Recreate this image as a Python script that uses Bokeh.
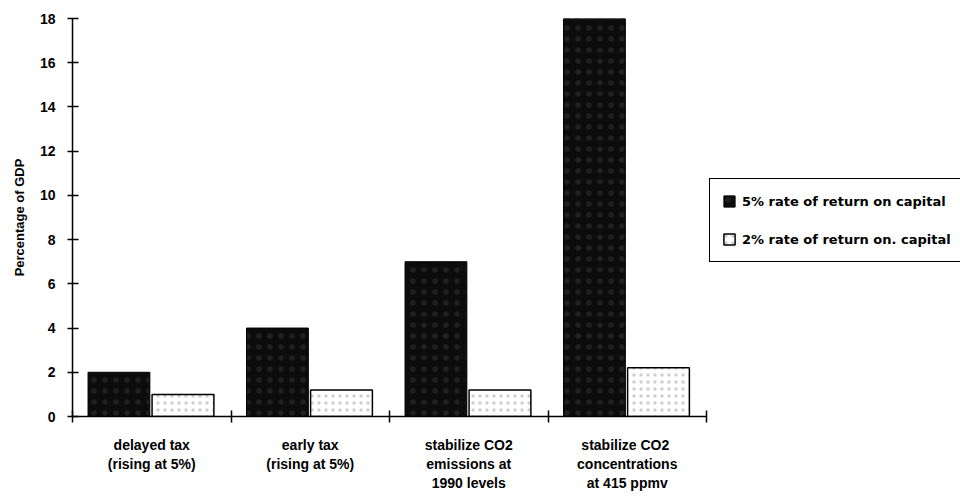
from bokeh.plotting import figure
from bokeh.models import ColumnDataSource, FixedTicker, Legend, LegendItem, Range1d
from bokeh.embed import file_html
from bokeh.resources import INLINE

categories = ["delayed tax\n(rising at 5%)",
              "early tax\n(rising at 5%)",
              "stabilize CO2\nemissions at\n1990 levels",
              "stabilize  CO2\nconcentrations\nat 415 ppmv"]
rate5 = [2.0, 4.0, 7.0, 18.0]
rate2 = [1.0, 1.2, 1.2, 2.2]
series_labels = ["5% rate of return on capital", "2% rate of return on. capital"]
y_ticks = [0, 2, 4, 6, 8, 10, 12, 14, 16, 18]

n = len(categories)
idx = list(range(n))
centers = [i + 0.5 for i in idx]
x5 = [c - 0.207 for c in centers]
x2 = [c + 0.197 for c in centers]

FONT = "Liberation Sans"

p = figure(frame_width=634, frame_height=398,
           x_range=Range1d(0, n), y_range=Range1d(0, 18),
           output_backend="svg", toolbar_location=None,
           min_border_left=72, min_border_top=18, min_border_bottom=70,
           min_border_right=0)
p.outline_line_color = None
p.xgrid.visible = False
p.ygrid.visible = False
p.background_fill_color = "white"
p.border_fill_color = "white"

src5 = ColumnDataSource(dict(x=x5, top=rate5))
src2 = ColumnDataSource(dict(x=x2, top=rate2))

r5 = p.vbar(x="x", top="top", bottom=0, width=0.39, source=src5,
            fill_color="#0c0c0c", line_color="black", line_width=1,
            hatch_pattern=".", hatch_color="#202020", hatch_scale=11, hatch_weight=1)
r2 = p.vbar(x="x", top="top", bottom=0, width=0.39, source=src2,
            fill_color="white", line_color="black", line_width=1.5,
            hatch_pattern=".", hatch_color="#cfcfcf", hatch_scale=7, hatch_weight=1)

# Y axis
ya = p.yaxis[0]
ya.ticker = FixedTicker(ticks=y_ticks)
ya.axis_label = "Percentage of GDP"
ya.axis_label_text_font = FONT
ya.axis_label_text_font_style = "bold"
ya.axis_label_text_font_size = "13px"
ya.axis_label_text_color = "black"
ya.axis_label_standoff = 10
ya.major_label_text_font = FONT
ya.major_label_text_font_style = "bold"
ya.major_label_text_font_size = "14px"
ya.major_label_text_color = "black"
ya.major_label_standoff = 12
ya.major_tick_in = 6
ya.major_tick_out = 5
ya.major_tick_line_width = 1.5
ya.minor_tick_line_color = None
ya.axis_line_width = 1.5

# X axis: boundary ticks as minor ticks, category labels at centers
xa = p.xaxis[0]
xa.ticker = FixedTicker(ticks=centers, minor_ticks=list(range(n + 1)))
xa.major_label_overrides = {c: lab for c, lab in zip(centers, categories)}
xa.major_tick_in = 0
xa.major_tick_out = 0
xa.minor_tick_in = 6
xa.minor_tick_out = 6
xa.minor_tick_line_width = 1.5
xa.minor_tick_line_color = "black"
xa.axis_line_width = 1.5
xa.major_label_standoff = 14
xa.major_label_text_font = FONT
xa.major_label_text_font_style = "bold"
xa.major_label_text_font_size = "14px"
xa.major_label_text_color = "black"

legend = Legend(items=[LegendItem(label=series_labels[0], renderers=[r5]),
                       LegendItem(label=series_labels[1], renderers=[r2])],
                location=(3, 154), orientation="vertical")
legend.label_text_font = "DejaVu Sans"
legend.label_text_font_style = "bold"
legend.label_text_font_size = "13px"
legend.label_text_color = "black"
legend.glyph_width = 14
legend.glyph_height = 14
legend.label_height = 20
legend.spacing = 18
legend.padding = 12
legend.margin = 11
legend.label_standoff = 6
legend.border_line_color = "black"
legend.border_line_alpha = 1
legend.border_line_width = 1.5
legend.background_fill_alpha = 1
p.add_layout(legend, "right")

open("out.html", "w").write(file_html(p, INLINE))
